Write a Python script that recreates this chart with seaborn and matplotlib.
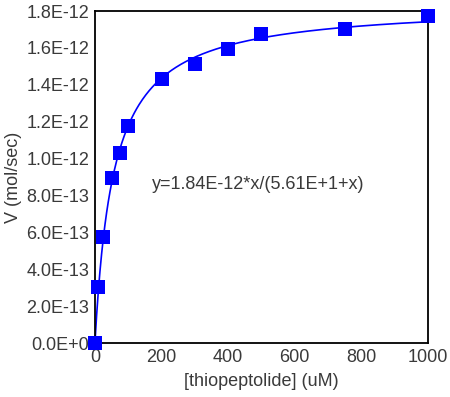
import matplotlib
matplotlib.use("Agg")
import matplotlib.pyplot as plt
import numpy as np
import seaborn as sns

# measured substrate concentrations (uM) and rates (mol/sec)
conc = [0, 10, 25, 50, 75, 100, 200, 300, 400, 500, 750, 1000]
rate = [0.0, 0.302e-12, 0.573e-12, 0.893e-12, 1.029e-12, 1.178e-12,
        1.431e-12, 1.511e-12, 1.594e-12, 1.677e-12, 1.701e-12, 1.775e-12]

# fitted Michaelis-Menten parameters (shown on the chart)
vmax = 1.84e-12
km = 56.1

x_ticks = [0, 200, 400, 600, 800, 1000]
y_ticks = [0.0, 0.2e-12, 0.4e-12, 0.6e-12, 0.8e-12, 1.0e-12,
           1.2e-12, 1.4e-12, 1.6e-12, 1.8e-12]
y_labels = ["0.0E+0", "2.0E-13", "4.0E-13", "6.0E-13", "8.0E-13",
            "1.0E-12", "1.2E-12", "1.4E-12", "1.6E-12", "1.8E-12"]

sns.set_style("white")
plt.rcParams['font.family'] = ['Liberation Sans', 'DejaVu Sans']

fig = plt.figure(figsize=(4.5, 3.97), dpi=100)
ax = fig.add_axes([0.211, 0.136, 0.740, 0.836])

# fitted curve
fit_x = np.linspace(0, 1000, 400)
fit_y = vmax * fit_x / (km + fit_x)
sns.lineplot(x=fit_x, y=fit_y, ax=ax, color='#0000ff', linewidth=1.2)

# data points
sns.scatterplot(x=conc, y=rate, ax=ax, marker='s', s=100, color='#0000ff',
                edgecolor='#0000ff', linewidth=0, clip_on=False, zorder=5)

ax.set_xlim(0, 1000)
ax.set_ylim(0, 1.8e-12)
ax.set_xticks(x_ticks)
ax.set_xticklabels([str(t) for t in x_ticks])
ax.set_yticks(y_ticks)
ax.set_yticklabels(y_labels)
ax.tick_params(length=0, pad=4, labelsize=13, labelcolor='#3a3a3a')

for sp in ax.spines.values():
    sp.set_color('black')
    sp.set_linewidth(1.3)

ax.set_xlabel('[thiopeptolide] (uM)', fontsize=13, color='#3a3a3a', labelpad=5)
ax.set_ylabel('V (mol/sec)', fontsize=13, color='#3a3a3a', labelpad=3)

ax.text(171, 0.857e-12, 'y=1.84E-12*x/(5.61E+1+x)', fontsize=13, color='#3a3a3a',
        va='center', ha='left')

fig.savefig('out.png', dpi=100)
